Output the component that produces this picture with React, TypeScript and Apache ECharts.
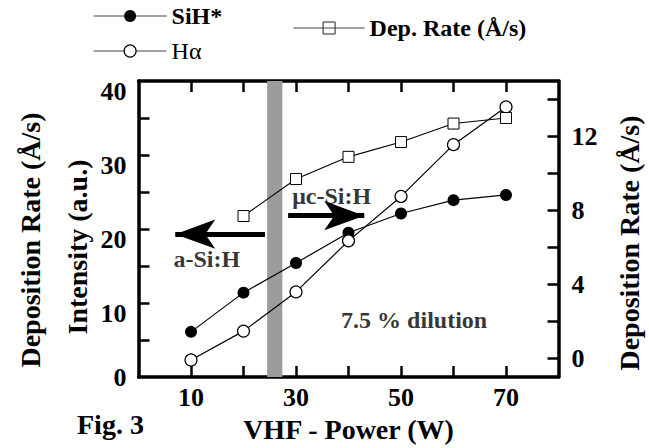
import React, { useEffect, useRef } from 'react';
import * as echarts from 'echarts';

// ---- data ----
const power = [10, 20, 30, 40, 50, 60, 70];
const sihIntensity = [6.1, 11.4, 15.4, 19.5, 22.1, 23.9, 24.6];
const halphaIntensity = [2.3, 6.2, 11.5, 18.4, 24.4, 31.4, 36.5];
const depPower = [20, 30, 40, 50, 60, 70];
const depRate = [7.7, 9.7, 10.9, 11.7, 12.7, 13.0];

const xTicks = [10, 20, 30, 40, 50, 60, 70];
const xLabels = [10, 30, 50, 70];
const leftTicks = [5, 10, 15, 20, 25, 30, 35];
const leftLabels = [0, 10, 20, 30, 40];
const rightTicks = [0, 2, 4, 6, 8, 10, 12, 14];
const rightLabels = [0, 4, 8, 12];

const transitionBand = [24.5, 27.4];
const noteTexts = ['a-Si:H', 'μc-Si:H', '7.5 % dilution'];
const noteX = [13.0, 36.8, 52.5];
const noteY = [16.0, 24.5, 7.7];
const leftArrow = [[24.1, 19.3], [7.0, 19.3]];
const rightArrow = [[28.5, 21.8], [43.0, 21.8]];

const FONT = 'Liberation Serif, Times New Roman, serif';

export default function App() {
  const ref = useRef<HTMLDivElement>(null);
  useEffect(() => {
    if (!ref.current) return;
    const chart = echarts.init(ref.current, null, { renderer: 'svg' });
    const tickStyle = { color: '#000', width: 2.5 };
    const lineAxis = { show: true, onZero: false, lineStyle: { color: '#000', width: 3.5 } };
    const labelBase = { fontSize: 26, fontWeight: 'bold', color: '#000', fontFamily: FONT };
    const titleStyle = { fontSize: 28, fontWeight: 'bold', fontFamily: FONT, fill: '#000', align: 'center', verticalAlign: 'middle', textAlign: 'center', textVerticalAlign: 'middle' };
    const arrowHead = { symbol: 'arrow', symbolSize: [22, 40] };
    const option: any = {
      animation: false,
      backgroundColor: '#fff',
      textStyle: { fontFamily: FONT },
      grid: { left: 138.5, top: 81, width: 420, height: 298.5 },
      legend: [
        {
          orient: 'vertical', left: 93, top: 4, padding: 0,
          itemWidth: 73, itemHeight: 15, itemGap: 11,
          textStyle: { fontFamily: FONT, fontSize: 24, color: '#000' },
          lineStyle: { color: '#444', width: 1.2 },
          data: [
            { name: 'SiH*', textStyle: { fontWeight: 'bold' }, itemStyle: { color: '#000', borderWidth: 0 } },
            { name: 'Hα', textStyle: { fontWeight: 'normal' }, itemStyle: { color: '#fff', borderColor: '#000', borderWidth: 1.2 } },
          ],
        },
        {
          left: 293, top: 16, padding: 0,
          itemWidth: 71, itemHeight: 15,
          textStyle: { fontFamily: FONT, fontSize: 24, color: '#000', fontWeight: 'bold' },
          lineStyle: { color: '#444', width: 1.2 },
          data: [
            { name: 'Dep. Rate (Å/s)', itemStyle: { color: 'rgba(0,0,0,0)', borderColor: '#222', borderWidth: 1 } },
          ],
        },
      ],
      xAxis: [
        {
          type: 'value', min: 0, max: 80, position: 'bottom',
          axisLine: lineAxis,
          axisTick: { show: true, inside: true, length: 11, lineStyle: tickStyle, customValues: xTicks },
          axisLabel: { ...labelBase, margin: 7, customValues: xLabels },
          splitLine: { show: false },
          name: 'VHF - Power (W)', nameLocation: 'middle', nameGap: 38,
          nameTextStyle: { fontSize: 28, fontWeight: 'bold', color: '#000', fontFamily: FONT },
        },
        {
          type: 'value', min: 0, max: 80, position: 'top',
          axisLine: lineAxis,
          axisTick: { show: true, inside: true, length: 11, lineStyle: tickStyle, customValues: xTicks },
          axisLabel: { show: false },
          splitLine: { show: false },
        },
      ],
      yAxis: [
        {
          type: 'value', min: 0, max: 40, position: 'left',
          axisLine: lineAxis,
          axisTick: { show: true, inside: true, length: 11, lineStyle: tickStyle, customValues: leftTicks },
          axisLabel: {
            ...labelBase, margin: 12, customValues: leftLabels,
            formatter: (v: number) => (v === 0 ? `{z|${v}}` : `{s|${v}}`),
            rich: {
              z: { ...labelBase },
              s: { ...labelBase, padding: [20, 0, 0, 0] },
            },
          },
          splitLine: { show: false },
        },
        {
          type: 'value', min: -1, max: 15, position: 'right',
          axisLine: lineAxis,
          axisTick: { show: true, inside: true, length: 11, lineStyle: tickStyle, customValues: rightTicks },
          axisLabel: { ...labelBase, margin: 13, customValues: rightLabels },
          splitLine: { show: false },
        },
      ],
      graphic: [
        { type: 'text', x: 30, y: 240, rotation: Math.PI / 2, style: { ...titleStyle, text: 'Deposition Rate (Å/s)' } },
        { type: 'text', x: 77, y: 247, rotation: Math.PI / 2, style: { ...titleStyle, text: 'Intensity (a.u.)' } },
        { type: 'text', x: 629, y: 243, rotation: Math.PI / 2, style: { ...titleStyle, text: 'Deposition Rate (Å/s)' } },
        { type: 'text', x: 77, y: 424, style: { ...titleStyle, text: 'Fig. 3', align: 'left', textAlign: 'left' } },
      ],
      series: [
        {
          name: 'notes', type: 'scatter', xAxisIndex: 0, yAxisIndex: 0, z: 1, silent: true,
          data: noteTexts.map((t, i) => ({ name: t, value: [noteX[i], noteY[i]] })),
          symbolSize: 1, itemStyle: { color: 'rgba(0,0,0,0)' },
          label: { show: true, position: 'inside', formatter: '{b}', fontSize: 24, fontWeight: 'bold', color: '#000', fontFamily: FONT },
          markArea: {
            silent: true,
            itemStyle: { color: '#9c9c9c' },
            data: [[{ xAxis: transitionBand[0] }, { xAxis: transitionBand[1] }]],
          },
          markLine: {
            silent: true,
            symbol: ['none', 'arrow'],
            lineStyle: { color: '#000', width: 5, type: 'solid' },
            itemStyle: { color: '#000' },
            label: { show: false },
            data: [
              [{ coord: leftArrow[0], symbol: 'none' }, { coord: leftArrow[1], ...arrowHead }],
              [{ coord: rightArrow[0], symbol: 'none' }, { coord: rightArrow[1], ...arrowHead }],
            ],
          },
        },
        {
          name: 'SiH*', type: 'line', xAxisIndex: 0, yAxisIndex: 0, z: 3,
          data: power.map((p, i) => [p, sihIntensity[i]]),
          symbol: 'circle', symbolSize: 12,
          itemStyle: { color: '#000' },
          lineStyle: { color: '#000', width: 1.2 },
        },
        {
          name: 'Hα', type: 'line', xAxisIndex: 0, yAxisIndex: 0, z: 3,
          data: power.map((p, i) => [p, halphaIntensity[i]]),
          symbol: 'circle', symbolSize: 12,
          itemStyle: { color: '#fff', borderColor: '#000', borderWidth: 1.2 },
          lineStyle: { color: '#000', width: 1.2 },
        },
        {
          name: 'Dep. Rate (Å/s)', type: 'line', xAxisIndex: 0, yAxisIndex: 1, z: 3,
          data: depPower.map((p, i) => [p, depRate[i]]),
          symbol: 'rect', symbolSize: 11,
          itemStyle: { color: '#fff', borderColor: '#000', borderWidth: 1 },
          lineStyle: { color: '#000', width: 1.1 },
        },
      ],
    };
    chart.setOption(option);
    return () => chart.dispose();
  }, []);
  return (
    <div
      ref={ref}
      style={{ position: 'absolute', left: 0, top: 0, width: 649, height: 448, background: '#fff' }}
    />
  );
}
